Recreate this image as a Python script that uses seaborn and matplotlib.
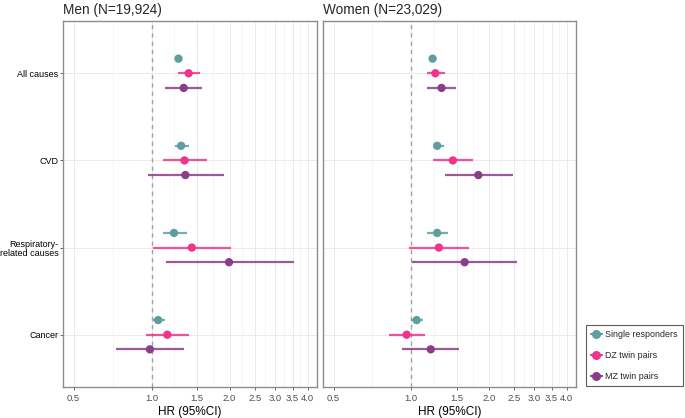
import numpy as np
import pandas as pd
import matplotlib
matplotlib.use("Agg")
import matplotlib.pyplot as plt
from matplotlib.lines import Line2D
import seaborn as sns

causes = ["All causes", "CVD", "Respiratory-\nrelated causes", "Cancer"]
groups = ["Single responders", "DZ twin pairs", "MZ twin pairs"]
panels = ["Men (N=19,924)", "Women (N=23,029)"]

# Men: HR, lower, upper per cause for each group
men_single_hr = [1.27, 1.30, 1.22, 1.06]
men_single_lo = [1.24, 1.23, 1.11, 1.01]
men_single_hi = [1.30, 1.39, 1.37, 1.13]
men_dz_hr = [1.39, 1.34, 1.43, 1.15]
men_dz_lo = [1.26, 1.11, 1.01, 0.95]
men_dz_hi = [1.54, 1.64, 2.02, 1.39]
men_mz_hr = [1.33, 1.35, 1.99, 0.985]
men_mz_lo = [1.13, 0.97, 1.14, 0.73]
men_mz_hi = [1.57, 1.91, 3.54, 1.33]

# Women
women_single_hr = [1.21, 1.26, 1.26, 1.05]
women_single_lo = [1.19, 1.21, 1.15, 1.00]
women_single_hi = [1.23, 1.34, 1.39, 1.11]
women_dz_hr = [1.24, 1.45, 1.28, 0.96]
women_dz_lo = [1.15, 1.21, 0.98, 0.82]
women_dz_hi = [1.35, 1.73, 1.68, 1.13]
women_mz_hr = [1.31, 1.82, 1.61, 1.19]
women_mz_lo = [1.15, 1.35, 1.01, 0.92]
women_mz_hi = [1.49, 2.48, 2.57, 1.53]

x_breaks = [0.5, 1.0, 1.5, 2.0, 2.5, 3.0, 3.5, 4.0]
x_labels = ["0.5", "1.0", "1.5", "2.0", "2.5", "3.0", "3.5", "4.0"]

colors = ["#5E9EA0", "#F0348C", "#8B3D8A"]

rows = []
series = {
    panels[0]: [(men_single_hr, men_single_lo, men_single_hi),
                (men_dz_hr, men_dz_lo, men_dz_hi),
                (men_mz_hr, men_mz_lo, men_mz_hi)],
    panels[1]: [(women_single_hr, women_single_lo, women_single_hi),
                (women_dz_hr, women_dz_lo, women_dz_hi),
                (women_mz_hr, women_mz_lo, women_mz_hi)],
}
for p in panels:
    for gi, (hr, lo, hi) in enumerate(series[p]):
        for ci, c in enumerate(causes):
            rows.append(dict(panel=p, group=groups[gi], cause=c,
                             ypos=ci + (gi - 1) * 0.168,
                             hr=hr[ci], lo=lo[ci], hi=hi[ci]))
df = pd.DataFrame(rows)

sns.set_theme(style="white")
plt.rcParams["font.family"] = ["Liberation Sans", "DejaVu Sans"]

fig = plt.figure(figsize=(6.85, 4.18), dpi=100)
W, H = 685, 418
axes_px = [(63, 21, 317, 387), (323, 21, 576, 387)]
pal = dict(zip(groups, colors))

minor = [np.sqrt(a * b) for a, b in zip(x_breaks[:-1], x_breaks[1:])]

for i, p in enumerate(panels):
    l, t, r, b = axes_px[i]
    ax = fig.add_axes([l / W, 1 - b / H, (r - l) / W, (b - t) / H])
    sub = df[df.panel == p]
    ax.set_xscale("log")
    for v in minor:
        ax.axvline(v, color="#F2F2F2", lw=0.5, zorder=0)
    for v in x_breaks:
        ax.axvline(v, color="#EBEBEB", lw=0.7, zorder=0)
    for ci in range(len(causes)):
        ax.axhline(ci, color="#EBEBEB", lw=0.7, zorder=0)
    ax.axvline(1.0, color="#A0A0A0", lw=1.0, ls=(0, (3, 3)), zorder=1)
    for g in groups:
        s = sub[sub.group == g]
        ax.hlines(s.ypos, s.lo, s.hi, color=pal[g], lw=1.6, alpha=0.85, zorder=2)
    sns.scatterplot(data=sub, x="hr", y="ypos", hue="group", palette=pal,
                    s=36, edgecolor="none", legend=False, ax=ax, zorder=3)
    ax.set_xlim(0.455, 4.35)
    ax.set_ylim(3.6, -0.6)
    ax.set_xticks(x_breaks)
    ax.set_xticklabels(x_labels)
    ax.xaxis.set_minor_locator(matplotlib.ticker.NullLocator())
    ax.tick_params(axis="x", labelsize=6.8, colors="#4D4D4D", length=2.5,
                   width=0.6, pad=2.5, bottom=True)
    if i == 0:
        ax.set_yticks(range(len(causes)))
        ax.set_yticklabels(causes, fontsize=6.5, color="black",
                           multialignment="right", linespacing=1.1)
        ax.tick_params(axis="y", length=2.2, width=0.6, color="#4D4D4D", left=True, pad=1.2)
    else:
        ax.set_yticks([])
    ax.set_xlabel("HR (95%CI)", fontsize=8.5, color="black", labelpad=2)
    ax.set_ylabel("")
    ax.set_title(p, loc="left", fontsize=9.8, pad=5)
    for sp in ax.spines.values():
        sp.set_color("#8C8C8C")
        sp.set_linewidth(1.0)

handles = [Line2D([0], [0], color=c, marker="o", markersize=5.5, lw=1.6, label=g)
           for g, c in zip(groups, colors)]
leg = fig.legend(handles=handles, loc="lower left",
                 bbox_to_anchor=(586 / W, 1 - 386 / H), fontsize=6.4,
                 frameon=True, fancybox=False, handlelength=1.2,
                 handletextpad=0.4, borderpad=0.55, labelspacing=1.35,
                 borderaxespad=0)
leg.get_frame().set_edgecolor("#333333")
leg.get_frame().set_linewidth(0.8)

fig.savefig("out.png", dpi=100)
